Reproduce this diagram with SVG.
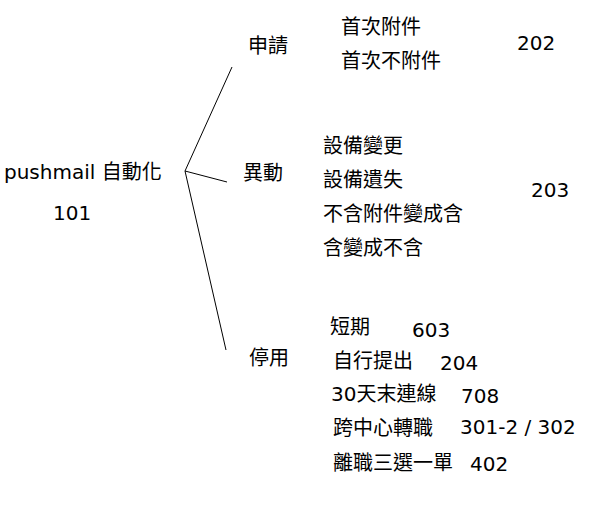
<svg xmlns="http://www.w3.org/2000/svg" width="597" height="521" viewBox="0 0 597 521">
<style>
text{font-family:"DejaVu Sans","Noto Sans CJK TC",sans-serif;font-size:20px;fill:#000}
.c{stroke:#000;stroke-width:1;fill:none}
</style>
<rect width="597" height="521" fill="#fff"/>
<g id="connectors">
<line class="c" x1="185" y1="171" x2="232" y2="67"/>
<line class="c" x1="185" y1="171" x2="227" y2="182"/>
<line class="c" x1="185" y1="171" x2="226" y2="350"/>
</g>
<g id="root"><text x="4" y="179">pushmail 自動化</text><text x="53" y="220">101</text></g>
<g id="apply"><text x="248" y="53">申請</text>
<text x="341" y="34">首次附件</text><text x="341" y="68">首次不附件</text><text x="517" y="50">202</text></g>
<g id="change"><text x="243" y="180">異動</text>
<text x="323" y="153">設備變更</text><text x="323" y="187">設備遺失</text><text x="323" y="221">不含附件變成含</text><text x="323" y="255">含變成不含</text><text x="531" y="197">203</text></g>
<g id="stop"><text x="249" y="365">停用</text>
<text x="330" y="334">短期</text><text x="412" y="337">603</text>
<text x="333" y="368">自行提出</text><text x="440" y="370">204</text>
<text x="331" y="401">30天末連線</text><text x="461" y="403">708</text>
<text x="333" y="435">跨中心轉職</text><text x="460" y="434">301-2 / 302</text>
<text x="333" y="470">離職三選一單</text><text x="470" y="471">402</text></g>
</svg>
